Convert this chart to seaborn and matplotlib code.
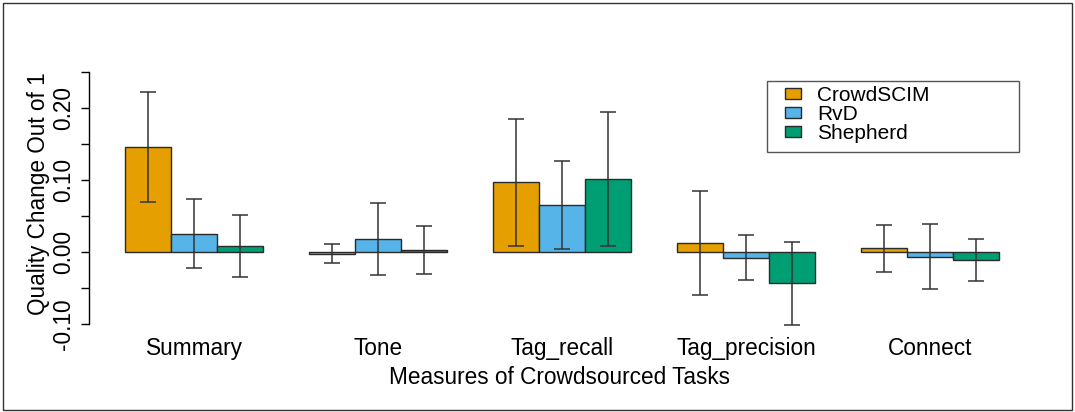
import pandas as pd
import seaborn as sns
from matplotlib import pyplot as plt
from matplotlib.patches import Rectangle
from matplotlib.ticker import FixedLocator

tasks = ["Summary", "Tone", "Tag_recall", "Tag_precision", "Connect"]
methods = ["CrowdSCIM", "RvD", "Shepherd"]

crowdscim = [0.146, -0.002, 0.097, 0.0125, 0.0055]
rvd = [0.026, 0.019, 0.066, -0.0075, -0.006]
shepherd = [0.009, 0.003, 0.102, -0.043, -0.011]

crowdscim_err = [0.076, 0.013, 0.088, 0.072, 0.033]
rvd_err = [0.048, 0.050, 0.061, 0.031, 0.045]
shepherd_err = [0.043, 0.033, 0.093, 0.058, 0.029]

colors = ["#E69F00", "#56B4E9", "#009E73"]

values = {"CrowdSCIM": crowdscim, "RvD": rvd, "Shepherd": shepherd}
errors = {"CrowdSCIM": crowdscim_err, "RvD": rvd_err, "Shepherd": shepherd_err}

df = pd.DataFrame(
    [(t, m, values[m][i]) for m in methods for i, t in enumerate(tasks)],
    columns=["task", "method", "value"],
)

sns.set_style("white")
plt.rcParams["font.family"] = ["Liberation Sans", "DejaVu Sans"]
plt.rcParams["font.size"] = 16.3
plt.rcParams["text.color"] = "black"
plt.rcParams["axes.labelcolor"] = "black"

fig = plt.figure(figsize=(10.75, 4.12), dpi=100)
W, H = 1075, 412
# axes placed in pixel terms: left 89, right 1030, top 60, bottom 328
ax = fig.add_axes([89 / W, 1 - 328 / H, (1030 - 89) / W, (328 - 60) / H])

sns.barplot(data=df, x="task", y="value", hue="method", hue_order=methods,
            order=tasks, palette=colors, errorbar=None, width=0.75,
            edgecolor="#2a2a2a", linewidth=1.0, saturation=1, ax=ax)

# error bars at the bar centres that seaborn placed
for cont, m in zip(ax.containers, methods):
    xs = [p.get_x() + p.get_width() / 2 for p in cont]
    ax.errorbar(xs, values[m], yerr=errors[m], fmt="none", ecolor="#333333",
                elinewidth=1.1, capsize=5.5, capthick=1.1, zorder=5)

ax.set_xlim(-0.5707, 4.543)
ax.set_ylim(-0.105, 0.267)

for s in ["top", "right", "bottom"]:
    ax.spines[s].set_visible(False)
ax.spines["left"].set_bounds(-0.10, 0.25)
ax.spines["left"].set_color("black")
ax.spines["left"].set_linewidth(1.0)

yt = [-0.10, -0.05, 0.0, 0.05, 0.10, 0.15, 0.20, 0.25]
ax.yaxis.set_major_locator(FixedLocator(yt))
ax.set_yticklabels(["-0.10", "", "0.00", "", "0.10", "", "0.20", ""])
ax.tick_params(axis="y", length=5.8, width=1.0, pad=4, left=True,
               labelrotation=90, colors="black")
for lbl in ax.get_yticklabels():
    lbl.set_va("center")
ax.tick_params(axis="x", length=0, pad=6.5, colors="black")

ax.set_xlabel("Measures of Crowdsourced Tasks", labelpad=4)
ax.set_ylabel("Quality Change Out of 1", labelpad=2)

# legend entries without frame, box drawn separately like R's legend()
handles, labels = ax.get_legend_handles_labels()
ax.legend(handles, labels, loc="upper left",
          bbox_to_anchor=(0.7396, 0.903), borderaxespad=0, borderpad=0,
          frameon=False, handlelength=0.75, handleheight=0.4,
          handletextpad=0.8, labelspacing=0.0, fontsize=15)
ax.add_patch(Rectangle((0.7205, 0.657), 0.2678, 0.266,
                       transform=ax.transAxes, fill=False,
                       edgecolor="#555555", linewidth=1.0, clip_on=False))

fig.patches.append(Rectangle((2.5 / W, 2.5 / H), 1069 / W, 407 / H,
                             transform=fig.transFigure, fill=False,
                             edgecolor="#333333", linewidth=1.0))

fig.savefig("out.png", dpi=100)
